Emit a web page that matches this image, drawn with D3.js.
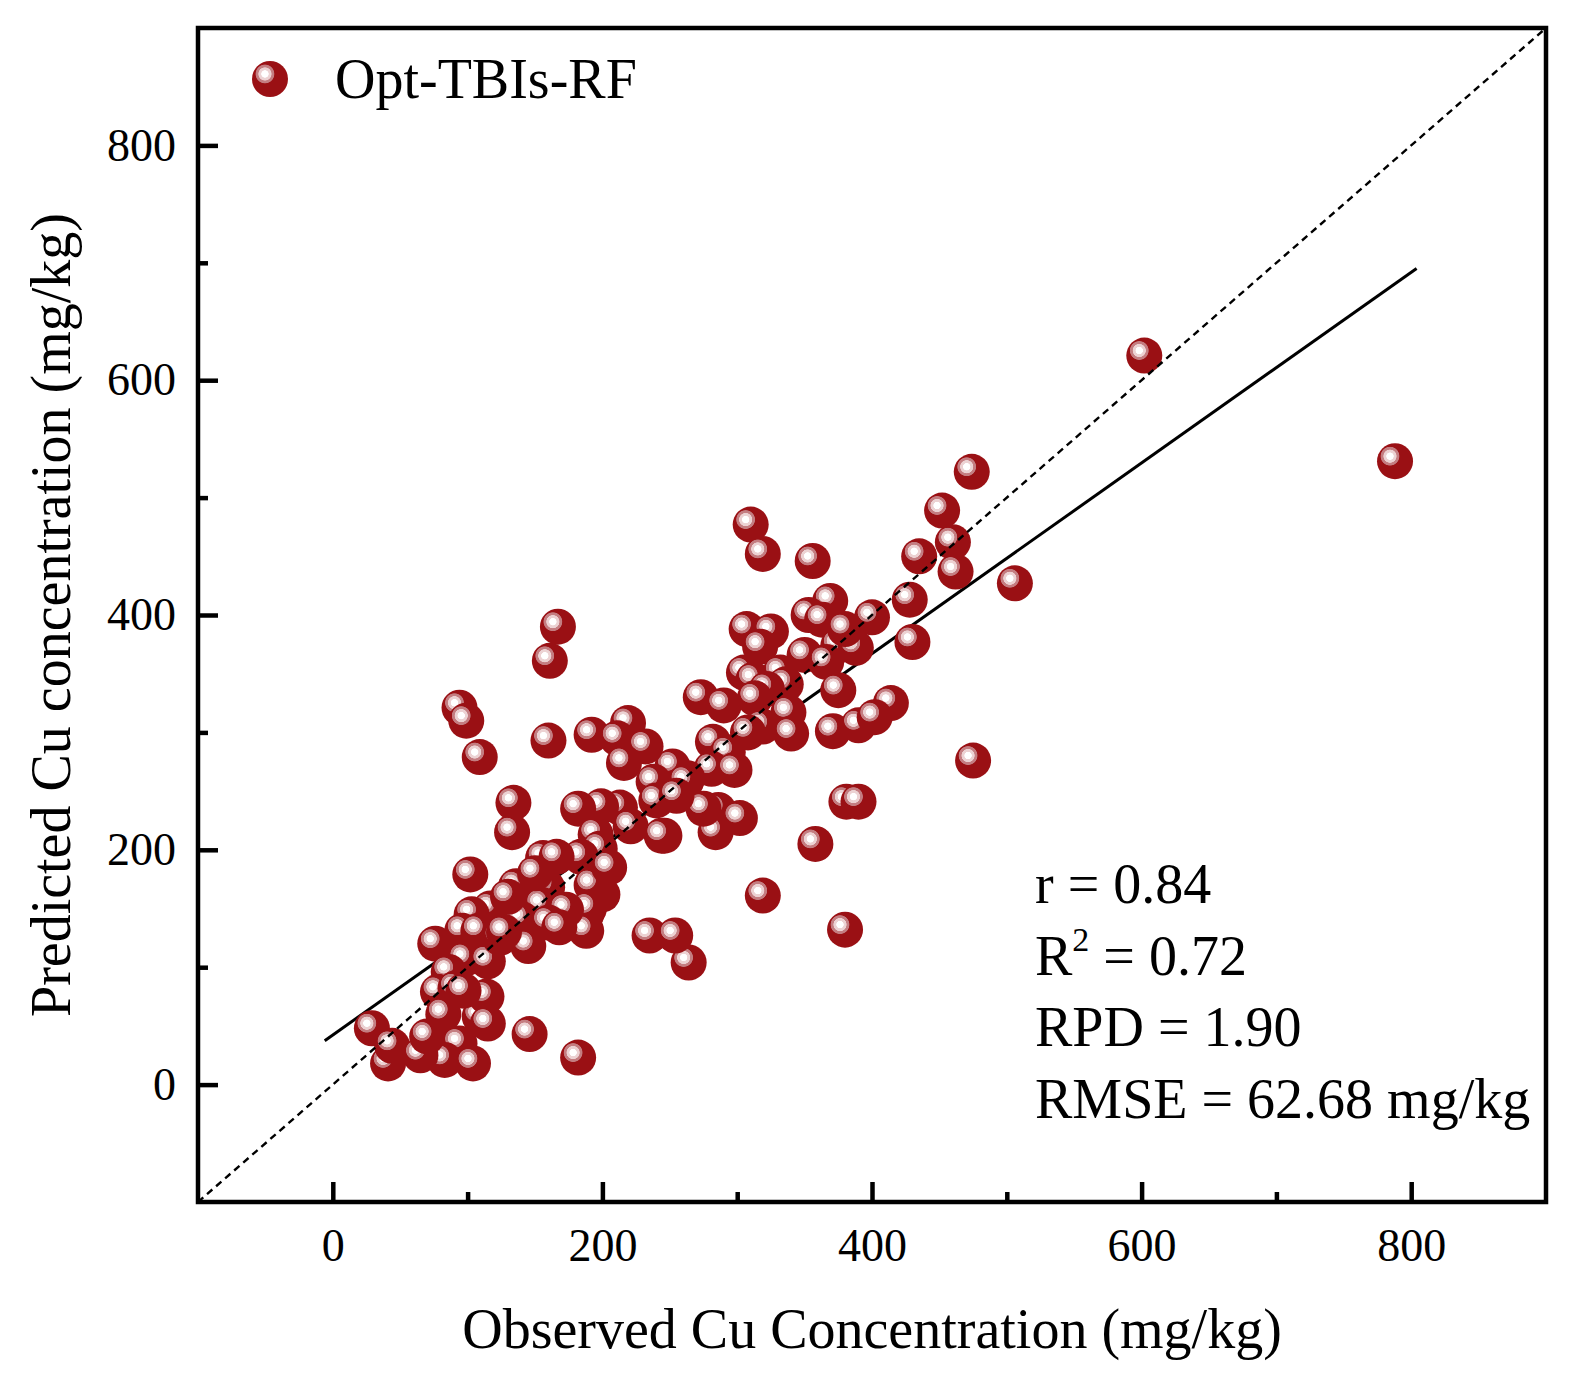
<!DOCTYPE html>
<html>
<head>
<meta charset="utf-8">
<script src="https://cdn.jsdelivr.net/npm/d3@7"></script>
<style>
  body { margin: 0; background: #fff; }
  text { font-family: "Liberation Serif", "Times New Roman", serif; fill: #000; }
</style>
</head>
<body>
<div id="chart-area"></div>
<script>
// observed / predicted Cu (mg/kg)
const observed = [
  602, 788, 474, 452, 460, 462, 435, 428, 430, 506, 475, 310, 319, 356, 319, 380, 358, 381, 390, 264,
  235, 254, 182, 146, 167, 161, 94, 99, 109, 160, 102, 134, 133, 29, 41, 44,
  369, 353, 363, 400, 307, 325, 317, 350, 375, 388, 380, 366, 305, 312, 332, 336, 375, 322, 313, 273,
  290, 338, 414, 371, 390, 402, 319, 308, 340, 282, 293, 281, 298, 263, 252, 286, 302, 284, 246,
  192, 219, 211, 232, 216, 238, 262, 213, 221, 244, 199, 182, 195, 198, 156, 184, 200, 275, 240, 255,
  192, 188, 205, 190, 188, 166,
  136, 159, 117, 155, 173, 140, 160, 103, 96, 108, 76, 98, 115, 86, 78, 91, 82, 75, 94, 83,
  65, 109, 114, 104, 115, 97, 124, 145, 130, 150, 168, 127, 70
]
const predicted = [
  621, 531, 522, 489, 462, 437, 450, 413, 377, 427, 276, 477, 452, 446, 161, 132, 205, 241, 241, 104,
  127, 127, 23, 43, 390, 361, 321, 310, 279, 293, 179, 240, 215, 48, 18, 33,
  412, 400, 396, 398, 388, 386, 373, 366, 374, 372, 388, 360, 351, 345, 351, 341, 336, 337, 329, 330,
  323, 317, 325, 301, 306, 313, 305, 300, 299, 292, 283, 269, 268, 261, 271, 234, 227, 215, 212,
  298, 308, 295, 288, 274, 258, 258, 236, 220, 212, 237, 235, 213, 201, 193, 194, 162, 235, 242, 246,
  170, 145, 185, 150, 131, 194,
  169, 168, 150, 153, 149, 141, 138, 145, 131, 131, 120, 107, 105, 96, 79, 82, 60, 39, 35, 21,
  25, 58, 75, 18, 52, 80, 125, 118, 160, 180, 134, 130, 41
]

// linear fit end points and 1:1 line
const fitX = [-6, 804]
const fitY = [37.4, 695.2]
const oneToOne = [-100, 900]

const xTicks = [0, 200, 400, 600, 800]
const yTicks = [0, 200, 400, 600, 800]
const minorTicks = [100, 300, 500, 700]

const stats = ['r = 0.84', 'R|2| = 0.72', 'RPD = 1.90', 'RMSE = 62.68 mg/kg']
const seriesName = 'Opt-TBIs-RF'

const margin = { left: 198, right: 35, top: 28, bottom: 175 }
const width = 1581 - margin.left - margin.right,
  height = 1377 - margin.top - margin.bottom

let svg = d3.select('#chart-area')
  .append('svg')
  .attr('width', 1581)
  .attr('height', 1377)

// shiny ball fill
let grad = svg.append('defs')
  .append('radialGradient')
  .attr('id', 'ball')
  .attr('cx', 0.36).attr('cy', 0.36).attr('r', 0.5)
  .attr('fx', 0.36).attr('fy', 0.36)
;[[0, '#ffffff'], [0.19, '#ffffff'], [0.22, '#ecd2d3'], [0.35, '#ecd2d3'], [0.38, '#c47d81'],
  [0.5, '#c47d81'], [0.54, '#9a1014'], [1, '#9a1014']].forEach(s => {
  grad.append('stop').attr('offset', s[0]).attr('stop-color', s[1])
})

let g = svg.append('g')
  .attr('transform', 'translate(' + margin.left + ',' + margin.top + ')')

let x = d3.scaleLinear().domain([-100, 900]).range([0, width])
let y = d3.scaleLinear().domain([-100, 900]).range([height, 0])

// axes, ticks pointing inward
let xAxis = g.append('g')
  .attr('transform', 'translate(0,' + height + ')')
  .call(d3.axisBottom(x).tickValues(xTicks).tickSize(-20).tickSizeOuter(0).tickPadding(26))
let xMinor = g.append('g')
  .attr('transform', 'translate(0,' + height + ')')
  .call(d3.axisBottom(x).tickValues(minorTicks).tickSize(-10).tickSizeOuter(0).tickFormat(''))
let yAxis = g.append('g')
  .call(d3.axisLeft(y).tickValues(yTicks).tickSize(-20).tickSizeOuter(0).tickPadding(22))
let yMinor = g.append('g')
  .call(d3.axisLeft(y).tickValues(minorTicks).tickSize(-10).tickSizeOuter(0).tickFormat(''))

;[xAxis, xMinor, yAxis, yMinor].forEach(a => {
  a.select('.domain').remove()
  a.selectAll('line').attr('stroke', '#000').attr('stroke-width', 4.5)
  a.selectAll('text').attr('font-size', 46).attr('font-family', '"Liberation Serif", serif')
})

let clip = svg.append('clipPath').attr('id', 'plotclip')
  .append('rect').attr('width', width).attr('height', height)

let plot = g.append('g').attr('clip-path', 'url(#plotclip)')

// fitted line (behind the points)
plot.append('line')
  .attr('x1', x(fitX[0])).attr('y1', y(fitY[0]))
  .attr('x2', x(fitX[1])).attr('y2', y(fitY[1]))
  .attr('stroke', '#000')
  .attr('stroke-width', 3)

let data = observed.map((d, i) => ({ obs: d, pred: predicted[i] }))

plot.selectAll('circle.pt')
  .data(data)
  .enter()
  .append('circle')
  .attr('class', 'pt')
  .attr('cx', d => x(d.obs))
  .attr('cy', d => y(d.pred))
  .attr('r', 18)
  .attr('fill', 'url(#ball)')

// 1:1 line
plot.append('line')
  .attr('x1', x(oneToOne[0])).attr('y1', y(oneToOne[0]))
  .attr('x2', x(oneToOne[1])).attr('y2', y(oneToOne[1]))
  .attr('stroke', '#000')
  .attr('stroke-width', 2.4)
  .attr('stroke-dasharray', '7,5')

// frame
g.append('rect')
  .attr('width', width)
  .attr('height', height)
  .attr('fill', 'none')
  .attr('stroke', '#000')
  .attr('stroke-width', 4.5)

// legend
g.append('circle')
  .attr('cx', 72).attr('cy', 51).attr('r', 18)
  .attr('fill', 'url(#ball)')
g.append('text')
  .attr('x', 137).attr('y', 70)
  .attr('font-size', 56)
  .text(seriesName)

// stats block
let statText = g.append('g')
stats.forEach((s, i) => {
  let t = statText.append('text')
    .attr('x', 837)
    .attr('y', 875 + i * 71.5)
    .attr('font-size', 56)
  let parts = s.split('|')
  if (parts.length === 1) {
    t.text(s)
  } else {
    t.append('tspan').text(parts[0])
    t.append('tspan').attr('font-size', 34).attr('dy', -24).text(parts[1])
    t.append('tspan').attr('dy', 24).text(parts[2])
  }
})

// axis titles
g.append('text')
  .attr('x', width / 2)
  .attr('y', 1320)
  .attr('text-anchor', 'middle')
  .attr('font-size', 56)
  .text('Observed Cu Concentration (mg/kg)')

g.append('text')
  .attr('transform', 'translate(-128,' + (height / 2) + ') rotate(-90)')
  .attr('text-anchor', 'middle')
  .attr('font-size', 56)
  .text('Predicted Cu concentration (mg/kg)')
</script>
</body>
</html>
